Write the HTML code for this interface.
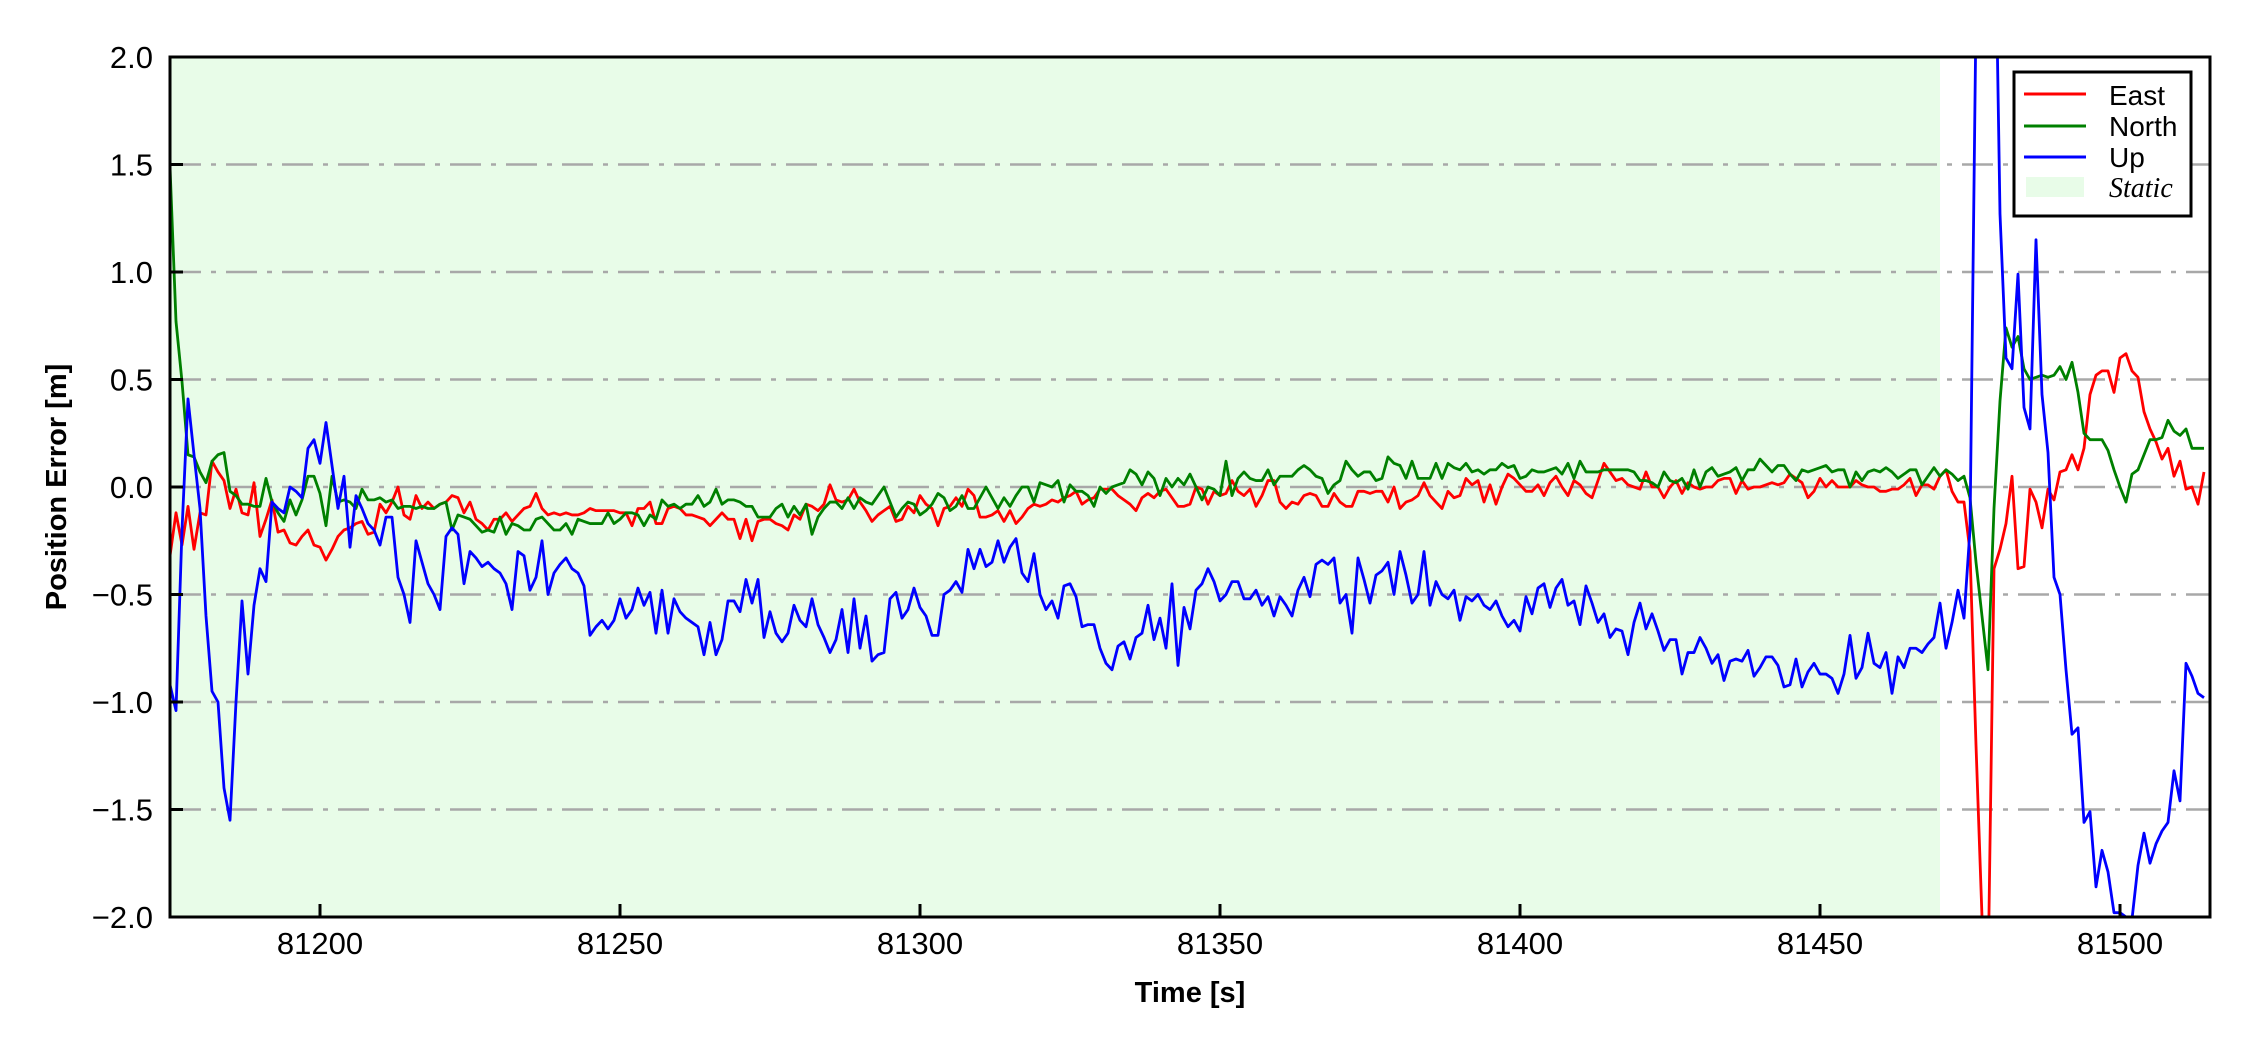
<!DOCTYPE html>
<html><head><meta charset="utf-8"><style>
html,body{margin:0;padding:0;background:#fff;}
svg{display:block;font-family:"Liberation Sans",Arial,sans-serif;}
</style></head><body>
<svg id="chart" width="2250" height="1050" viewBox="0 0 2250 1050" xmlns="http://www.w3.org/2000/svg">
<defs><clipPath id="plotclip"><rect x="170" y="57" width="2040" height="860"/></clipPath></defs>
<rect x="0" y="0" width="2250" height="1050" fill="#ffffff"/>
<g id="bg"></g>
<g id="grid"></g>
<g id="series" clip-path="url(#plotclip)"></g>
<g id="axes"></g>
<text x="1190" y="1002" text-anchor="middle" font-size="29" font-weight="bold">Time [s]</text>
<text transform="translate(66,487) rotate(-90)" text-anchor="middle" font-size="29" font-weight="bold">Position Error [m]</text>
<g>
<rect x="2014" y="72" width="177" height="144" fill="#fff" stroke="#000" stroke-width="3"/>
<line x1="2024" y1="94" x2="2086" y2="94" stroke="#ff0000" stroke-width="3"/>
<text x="2109" y="105" font-size="28">East</text>
<line x1="2024" y1="126" x2="2086" y2="126" stroke="#008000" stroke-width="3"/>
<text x="2109" y="136" font-size="28">North</text>
<line x1="2024" y1="157" x2="2086" y2="157" stroke="#0000ff" stroke-width="3"/>
<text x="2109" y="167" font-size="28">Up</text>
<rect x="2026" y="177" width="58" height="20" fill="#e8fce8"/>
<text x="2109" y="197" font-size="28" font-style="italic" font-family="'Liberation Serif',serif">Static</text>
</g>
</svg>
<script>
const T0 = 81175;
const DT = 1;
const xTicks = [81200, 81250, 81300, 81350, 81400, 81450, 81500];
const yTicks = [-2.0, -1.5, -1.0, -0.5, 0.0, 0.5, 1.0, 1.5, 2.0];
const yTickLabels = ["\u22122.0","\u22121.5","\u22121.0","\u22120.5","0.0","0.5","1.0","1.5","2.0"];
const staticSpan = [81175, 81470];
const east = [-0.32,-0.12,-0.27,-0.09,-0.29,-0.12,-0.13,0.12,0.07,0.03,-0.1,-0.01,-0.12,-0.13,0.02,-0.23,-0.15,-0.06,-0.21,-0.2,-0.26,-0.27,-0.23,-0.2,-0.27,-0.28,-0.34,-0.29,-0.23,-0.2,-0.19,-0.17,-0.16,-0.22,-0.21,-0.08,-0.12,-0.07,0.0,-0.13,-0.15,-0.04,-0.1,-0.07,-0.1,-0.08,-0.07,-0.04,-0.05,-0.12,-0.07,-0.15,-0.17,-0.2,-0.15,-0.15,-0.12,-0.16,-0.13,-0.1,-0.09,-0.03,-0.1,-0.13,-0.12,-0.13,-0.12,-0.13,-0.13,-0.12,-0.1,-0.11,
-0.11,-0.11,-0.11,-0.12,-0.12,-0.18,-0.1,-0.1,-0.07,-0.17,-0.17,-0.1,-0.09,-0.1,-0.13,-0.13,-0.14,-0.15,-0.18,-0.15,-0.12,-0.15,-0.15,-0.24,-0.15,-0.25,-0.16,-0.15,
-0.15,-0.17,-0.18,-0.2,-0.13,-0.15,-0.08,-0.09,-0.11,-0.08,
0.01,-0.06,-0.07,-0.06,-0.01,-0.07,-0.11,-0.16,-0.13,-0.11,
-0.09,-0.16,-0.15,-0.09,-0.12,-0.04,-0.08,-0.1,-0.18,-0.1,
-0.09,-0.05,-0.09,-0.01,-0.04,-0.14,-0.14,-0.13,-0.11,-0.16,
-0.11,-0.17,-0.14,-0.1,-0.08,-0.09,-0.08,-0.06,-0.07,-0.05,
-0.04,-0.02,-0.08,-0.06,-0.05,-0.01,-0.01,-0.01,-0.04,-0.06,
-0.08,-0.11,-0.05,-0.03,-0.05,-0.02,-0.01,-0.05,-0.09,-0.09,
-0.08,0.0,-0.01,-0.08,-0.02,-0.04,-0.03,0.03,-0.02,-0.04,
-0.01,-0.09,-0.04,0.03,0.03,-0.07,-0.1,-0.07,-0.08,-0.04,
-0.03,-0.04,-0.09,-0.09,-0.03,-0.07,-0.09,-0.09,-0.02,-0.02,
-0.03,-0.02,-0.02,-0.07,0.0,-0.1,-0.07,-0.06,-0.04,0.02,
-0.04,-0.07,-0.1,-0.02,-0.05,-0.04,0.04,0.01,0.03,-0.07,
0.01,-0.08,0.0,0.06,0.04,0.01,-0.02,-0.02,0.01,-0.04,
0.02,0.05,0.0,-0.04,0.03,0.01,-0.03,-0.05,0.03,0.11,
0.07,0.03,0.04,0.01,0.0,-0.01,0.07,0.0,0.0,-0.05,
0.0,0.03,-0.03,0.02,0.0,-0.01,0.0,0.0,0.03,0.04,
0.04,-0.03,0.03,-0.01,0.0,0.0,0.01,0.02,0.01,0.02,
0.06,0.04,0.02,-0.05,-0.02,0.04,0.0,0.03,0.0,0.0,
0.0,0.03,0.01,0.0,0.0,-0.02,-0.02,-0.01,-0.01,0.01,
0.04,-0.04,0.01,0.01,-0.01,0.05,0.08,-0.02,-0.07,-0.07,
-0.3,-1.2,-2.0,-2.3,-0.38,-0.29,-0.17,0.05,-0.38,-0.37,
-0.01,-0.07,-0.19,-0.01,-0.06,0.07,0.08,0.15,0.08,0.18,
0.43,0.52,0.54,0.54,0.44,0.6,0.62,0.54,0.51,0.35,
0.27,0.21,0.13,0.18,0.05,0.12,-0.01,0.0,-0.08,0.07];
const north = [1.49,0.77,0.49,0.15,0.14,0.07,0.02,0.12,0.15,0.16,-0.02,-0.04,-0.08,-0.08,-0.09,-0.09,0.04,-0.07,-0.12,-0.16,-0.06,-0.13,-0.06,0.05,0.05,-0.03,-0.18,0.05,-0.07,-0.06,-0.07,-0.1,-0.01,-0.06,-0.06,-0.05,-0.07,-0.06,-0.1,-0.09,-0.09,-0.1,-0.09,-0.1,-0.1,-0.08,-0.07,-0.2,-0.13,-0.14,-0.15,-0.18,-0.21,-0.2,-0.21,-0.14,-0.22,-0.17,-0.18,-0.2,-0.2,-0.15,-0.14,-0.17,-0.2,-0.2,-0.17,-0.22,-0.15,-0.16,-0.17,-0.17,
-0.17,-0.12,-0.17,-0.15,-0.12,-0.12,-0.13,-0.18,-0.13,-0.15,-0.06,-0.09,-0.08,-0.1,-0.08,-0.08,-0.04,-0.09,-0.07,-0.01,-0.08,-0.06,-0.06,-0.07,-0.09,-0.09,-0.14,-0.14,
-0.14,-0.1,-0.08,-0.14,-0.09,-0.13,-0.08,-0.22,-0.14,-0.1,
-0.07,-0.07,-0.1,-0.05,-0.1,-0.05,-0.07,-0.08,-0.04,0.0,
-0.07,-0.14,-0.1,-0.07,-0.08,-0.13,-0.11,-0.08,-0.03,-0.05,
-0.11,-0.09,-0.04,-0.1,-0.1,-0.05,0.0,-0.05,-0.1,-0.05,
-0.09,-0.04,0.0,0.0,-0.07,0.02,0.01,0.0,0.03,-0.07,
0.01,-0.02,-0.02,-0.04,-0.09,0.0,-0.03,0.0,0.01,0.02,
0.08,0.06,0.01,0.07,0.04,-0.04,0.04,0.0,0.04,0.01,
0.06,0.0,-0.06,0.0,-0.01,-0.04,0.12,-0.04,0.04,0.07,
0.04,0.03,0.03,0.08,0.01,0.05,0.05,0.05,0.08,0.1,
0.08,0.05,0.04,-0.03,0.01,0.03,0.12,0.08,0.05,0.07,
0.07,0.03,0.04,0.14,0.11,0.1,0.04,0.12,0.04,0.04,
0.04,0.11,0.04,0.11,0.09,0.08,0.11,0.07,0.08,0.06,
0.08,0.08,0.11,0.09,0.1,0.04,0.05,0.08,0.07,0.07,
0.08,0.09,0.06,0.11,0.04,0.12,0.07,0.07,0.07,0.08,
0.08,0.08,0.08,0.08,0.07,0.03,0.03,0.02,0.0,0.07,
0.03,0.02,0.04,-0.01,0.08,0.0,0.07,0.09,0.05,0.06,
0.07,0.09,0.03,0.08,0.08,0.13,0.1,0.07,0.1,0.1,
0.06,0.03,0.08,0.07,0.08,0.09,0.1,0.07,0.08,0.08,
0.0,0.07,0.03,0.07,0.08,0.07,0.09,0.07,0.04,0.06,
0.08,0.08,0.01,0.05,0.09,0.05,0.08,0.06,0.03,0.05,
-0.05,-0.35,-0.6,-0.85,-0.1,0.4,0.74,0.65,0.7,0.55,
0.5,0.51,0.52,0.51,0.52,0.56,0.5,0.58,0.44,0.25,
0.22,0.22,0.22,0.17,0.08,0.0,-0.07,0.06,0.08,0.15,
0.22,0.22,0.23,0.31,0.26,0.24,0.27,0.18,0.18,0.18];
const up = [-0.92,-1.04,-0.2,0.41,0.15,-0.1,-0.6,-0.95,-1.0,-1.4,-1.55,-1.0,-0.53,-0.87,-0.55,-0.38,-0.44,-0.07,-0.1,-0.12,0.0,-0.02,-0.05,0.18,0.22,0.11,0.3,0.1,-0.1,0.05,-0.28,-0.04,-0.1,-0.17,-0.2,-0.27,-0.14,-0.14,-0.42,-0.5,-0.63,-0.25,-0.35,-0.45,-0.5,-0.57,-0.23,-0.19,-0.22,-0.45,-0.3,-0.33,-0.37,-0.35,-0.38,-0.4,-0.45,-0.57,-0.3,-0.32,-0.48,-0.42,-0.25,-0.5,-0.4,-0.36,-0.33,-0.38,-0.4,-0.46,-0.69,-0.65,
-0.62,-0.66,-0.62,-0.52,-0.61,-0.57,-0.47,-0.55,-0.49,-0.68,-0.48,-0.68,-0.52,-0.58,-0.61,-0.63,-0.65,-0.78,-0.63,-0.78,-0.71,-0.53,-0.53,-0.58,-0.43,-0.54,-0.43,-0.7,
-0.58,-0.68,-0.72,-0.68,-0.55,-0.62,-0.65,-0.52,-0.64,-0.7,
-0.77,-0.71,-0.57,-0.77,-0.52,-0.75,-0.6,-0.81,-0.78,-0.77,
-0.52,-0.49,-0.61,-0.57,-0.47,-0.56,-0.6,-0.69,-0.69,-0.5,
-0.48,-0.44,-0.49,-0.29,-0.38,-0.29,-0.37,-0.35,-0.25,-0.35,
-0.28,-0.24,-0.4,-0.44,-0.31,-0.5,-0.57,-0.53,-0.61,-0.46,
-0.45,-0.51,-0.65,-0.64,-0.64,-0.75,-0.82,-0.85,-0.74,-0.72,
-0.8,-0.7,-0.68,-0.55,-0.71,-0.61,-0.75,-0.45,-0.83,-0.56,
-0.66,-0.48,-0.45,-0.38,-0.44,-0.53,-0.5,-0.44,-0.44,-0.52,
-0.52,-0.48,-0.55,-0.51,-0.6,-0.51,-0.55,-0.6,-0.48,-0.42,
-0.51,-0.36,-0.34,-0.36,-0.33,-0.54,-0.5,-0.68,-0.33,-0.43,
-0.54,-0.41,-0.39,-0.35,-0.5,-0.3,-0.41,-0.54,-0.5,-0.3,
-0.55,-0.44,-0.5,-0.52,-0.48,-0.62,-0.51,-0.53,-0.5,-0.55,
-0.57,-0.53,-0.6,-0.65,-0.62,-0.67,-0.51,-0.59,-0.47,-0.45,
-0.56,-0.47,-0.43,-0.55,-0.53,-0.64,-0.46,-0.54,-0.63,-0.59,
-0.7,-0.66,-0.67,-0.78,-0.63,-0.54,-0.66,-0.59,-0.67,-0.76,
-0.71,-0.71,-0.87,-0.77,-0.77,-0.7,-0.75,-0.82,-0.78,-0.9,
-0.81,-0.8,-0.81,-0.76,-0.88,-0.84,-0.79,-0.79,-0.83,-0.93,
-0.92,-0.8,-0.93,-0.86,-0.82,-0.87,-0.87,-0.89,-0.96,-0.87,
-0.69,-0.89,-0.84,-0.68,-0.82,-0.84,-0.77,-0.96,-0.79,-0.84,
-0.75,-0.75,-0.77,-0.73,-0.7,-0.54,-0.75,-0.63,-0.48,-0.61,
-0.2,2.2,3.5,3.8,3.0,1.27,0.6,0.55,0.99,0.37,
0.27,1.15,0.43,0.16,-0.42,-0.5,-0.85,-1.15,-1.12,-1.56,
-1.51,-1.86,-1.69,-1.79,-1.98,-1.98,-2.0,-2.01,-1.76,-1.61,
-1.75,-1.66,-1.6,-1.56,-1.32,-1.46,-0.82,-0.88,-0.96,-0.98];

const X0 = 170, X1 = 2210, Y0 = 57, Y1 = 917;
const xMin = 81175, xMax = 81515, yMin = -2, yMax = 2;
function xs(t){ return X0 + (t - xMin) / (xMax - xMin) * (X1 - X0); }
function ys(v){ return Y1 - (v - yMin) / (yMax - yMin) * (Y1 - Y0); }
const NS = "http://www.w3.org/2000/svg";
function mk(tag, attrs, parent){
  const e = document.createElementNS(NS, tag);
  for (const k in attrs) e.setAttribute(k, attrs[k]);
  parent.appendChild(e);
  return e;
}
const bg = document.getElementById('bg');
const st = mk('rect', {x: xs(staticSpan[0]), y: Y0, width: xs(staticSpan[1]) - xs(staticSpan[0]), height: Y1 - Y0, fill: '#e8fce8'}, bg);



const grid = document.getElementById('grid');
yTicks.forEach(v => {
  if (v <= yMin || v >= yMax) return;
  const g = mk('line', {x1: X0, x2: X1, y1: ys(v), y2: ys(v), stroke: '#a8a8a8', 'stroke-width': 2.5, 'stroke-dasharray': '31 10 5 10'}, grid);
  
  
});

const series = document.getElementById('series');
function drawLine(vals, color, name){
  let d = '';
  vals.forEach((v, i) => { d += (i ? 'L' : 'M') + xs(T0 + i * DT).toFixed(2) + ',' + ys(v).toFixed(2); });
  const p = mk('path', {d: d, fill: 'none', stroke: color, 'stroke-width': 2.8, 'stroke-linejoin': 'round'}, series);
  
  
}
drawLine(east, '#ff0000', 'east-line');
drawLine(north, '#008000', 'north-line');
drawLine(up, '#0000ff', 'up-line');

const axes = document.getElementById('axes');
const frame = mk('rect', {x: X0, y: Y0, width: X1 - X0, height: Y1 - Y0, fill: 'none', stroke: '#000', 'stroke-width': 3}, axes);


xTicks.forEach(t => {
  const x = xs(t);
  const tk = mk('line', {x1: x, x2: x, y1: Y1, y2: Y1 - 13, stroke: '#000', 'stroke-width': 3}, axes);
  
  
  const lb = mk('text', {x: x, y: 954, 'text-anchor': 'middle', 'font-size': 31}, axes);
  
  
  lb.textContent = String(t);
});
yTicks.forEach((v, i) => {
  const y = ys(v);
  const tk = mk('line', {x1: X0, x2: X0 + 13, y1: y, y2: y, stroke: '#000', 'stroke-width': 3}, axes);
  
  
  const lb = mk('text', {x: 153, y: y + 11, 'text-anchor': 'end', 'font-size': 31}, axes);
  
  
  lb.textContent = yTickLabels[i];
});
</script>
</body></html>
